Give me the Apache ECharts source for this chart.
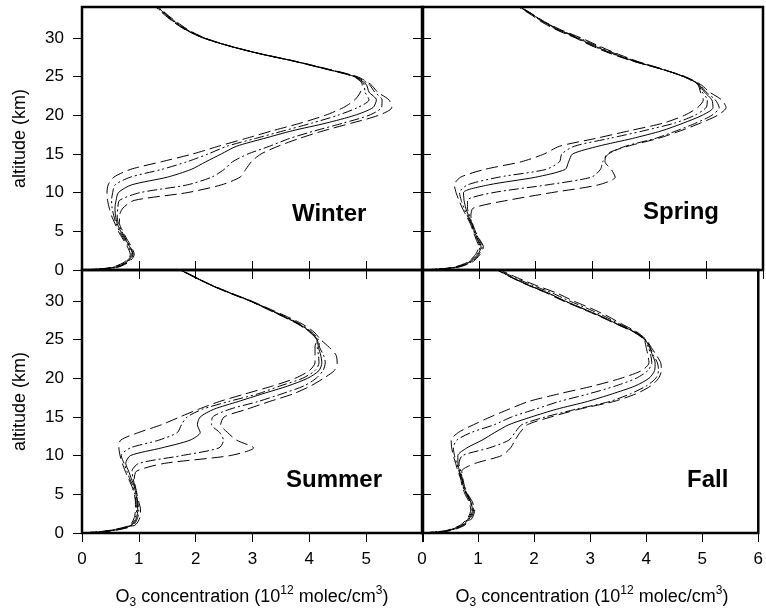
<!DOCTYPE html>
<html><head><meta charset="utf-8">
<script src="https://cdn.jsdelivr.net/npm/echarts@6/dist/echarts.min.js"></script>
<style>html,body{margin:0;padding:0;background:#fff}#c{width:766px;height:614px}</style>
</head><body><div id="c"></div><script>
const altitudes = [0, 0.3, 1, 2, 3, 4, 5, 6, 7, 8, 9, 10, 11, 12, 13, 14, 15, 16, 17, 18, 19, 20, 21, 22, 23, 24, 25, 26, 27, 28, 29, 30, 31, 32, 33, 34];
const xTicks = [0, 1, 2, 3, 4, 5, 6];
const xTicksLeft = [0, 1, 2, 3, 4, 5];
const yTicks = [0, 5, 10, 15, 20, 25, 30];
const seasons = ['Winter', 'Spring', 'Summer', 'Fall'];

const winterP10 = [0, 0.5, 0.74, 0.85, 0.8, 0.72, 0.64, 0.58, 0.52, 0.48, 0.45, 0.44, 0.46, 0.56, 0.85, 1.4, 1.95, 2.4, 2.88, 3.35, 3.85, 4.28, 4.6, 4.8, 4.9, 4.93, 4.78, 4.27, 3.72, 3.1, 2.58, 2.16, 1.88, 1.68, 1.5, 1.36];
const winterP25 = [0, 0.52, 0.76, 0.87, 0.82, 0.74, 0.66, 0.6, 0.56, 0.53, 0.52, 0.54, 0.58, 0.85, 1.4, 1.85, 2.22, 2.55, 3.05, 3.55, 4.05, 4.5, 4.85, 5.05, 4.98, 4.96, 4.79, 4.28, 3.73, 3.1, 2.57, 2.15, 1.86, 1.66, 1.49, 1.34];
const winterP50 = [0, 0.55, 0.78, 0.89, 0.84, 0.76, 0.68, 0.62, 0.59, 0.58, 0.6, 0.64, 0.87, 1.5, 1.92, 2.18, 2.45, 2.72, 3.2, 3.7, 4.3, 4.8, 5.12, 5.18, 5.05, 5.0, 4.8, 4.29, 3.73, 3.1, 2.57, 2.14, 1.85, 1.65, 1.48, 1.33];
const winterP75 = [0, 0.57, 0.8, 0.9, 0.85, 0.77, 0.7, 0.64, 0.62, 0.63, 0.66, 1.02, 1.85, 2.28, 2.5, 2.65, 2.92, 3.3, 3.65, 4.1, 4.6, 5.05, 5.27, 5.28, 5.15, 5.05, 4.82, 4.3, 3.74, 3.11, 2.57, 2.13, 1.84, 1.63, 1.46, 1.31];
const winterP90 = [0, 0.6, 0.82, 0.92, 0.87, 0.79, 0.72, 0.66, 0.66, 0.72, 0.92, 1.85, 2.45, 2.78, 2.88, 2.98, 3.15, 3.45, 3.82, 4.25, 4.75, 5.22, 5.45, 5.4, 5.2, 5.08, 4.84, 4.32, 3.75, 3.12, 2.58, 2.13, 1.83, 1.62, 1.45, 1.3];

const springP10 = [0, 0.52, 0.8, 0.94, 1.0, 0.95, 0.9, 0.85, 0.78, 0.71, 0.65, 0.6, 0.57, 0.68, 1.1, 1.75, 2.15, 2.42, 3.05, 3.65, 4.25, 4.62, 4.85, 4.95, 4.9, 4.85, 4.6, 4.22, 3.78, 3.42, 3.1, 2.8, 2.46, 2.18, 1.96, 1.74];
const springP25 = [0, 0.54, 0.82, 0.96, 1.02, 0.97, 0.91, 0.86, 0.8, 0.74, 0.69, 0.66, 0.8, 1.35, 2.18, 2.42, 2.46, 2.68, 3.29, 3.9, 4.45, 4.8, 5.0, 5.02, 4.93, 4.86, 4.6, 4.21, 3.76, 3.39, 3.06, 2.77, 2.44, 2.17, 1.95, 1.73];
const springP50 = [0, 0.56, 0.84, 0.98, 1.04, 0.98, 0.92, 0.87, 0.82, 0.77, 0.74, 0.73, 1.17, 2.0, 2.52, 2.58, 2.65, 3.1, 3.7, 4.22, 4.6, 4.93, 5.12, 5.1, 4.97, 4.87, 4.61, 4.2, 3.73, 3.35, 3.02, 2.74, 2.42, 2.16, 1.95, 1.73];
const springP75 = [0, 0.58, 0.86, 1.0, 1.06, 1.0, 0.93, 0.88, 0.84, 0.8, 0.8, 1.25, 2.2, 2.98, 3.14, 3.18, 3.28, 3.58, 4.1, 4.48, 4.82, 5.1, 5.23, 5.16, 5.0, 4.88, 4.62, 4.2, 3.72, 3.33, 3.0, 2.72, 2.4, 2.14, 1.93, 1.72];
const springP90 = [0, 0.6, 0.88, 1.02, 1.08, 1.01, 0.94, 0.89, 0.86, 0.9, 1.5, 2.28, 3.1, 3.4, 3.33, 3.22, 3.25, 3.62, 4.15, 4.55, 4.9, 5.2, 5.35, 5.27, 5.06, 4.9, 4.63, 4.2, 3.71, 3.31, 2.98, 2.7, 2.38, 2.12, 1.92, 1.7];

const summerP10 = [0, 0.45, 0.84, 0.92, 0.94, 0.94, 0.92, 0.88, 0.82, 0.76, 0.71, 0.67, 0.65, 0.68, 1.0, 1.4, 1.72, 2.05, 2.42, 2.88, 3.35, 3.75, 4.0, 4.1, 4.1, 4.1, 4.12, 4.0, 3.8, 3.53, 3.24, 2.95, 2.6, 2.28, 2.0, 1.73];
const summerP25 = [0, 0.47, 0.86, 0.94, 0.96, 0.95, 0.93, 0.9, 0.84, 0.79, 0.74, 0.69, 0.85, 1.35, 1.68, 1.75, 1.85, 2.12, 2.58, 3.1, 3.48, 3.88, 4.1, 4.17, 4.16, 4.14, 4.13, 4.01, 3.81, 3.54, 3.25, 2.96, 2.61, 2.28, 2.0, 1.73];
const summerP50 = [0, 0.5, 0.88, 0.96, 0.98, 0.97, 0.95, 0.92, 0.87, 0.82, 0.77, 0.85, 1.4, 1.9, 2.08, 2.03, 2.08, 2.32, 2.75, 3.18, 3.62, 3.97, 4.17, 4.22, 4.2, 4.16, 4.14, 4.02, 3.82, 3.55, 3.26, 2.96, 2.61, 2.28, 2.0, 1.73];
const summerP75 = [0, 0.52, 0.9, 0.98, 1.0, 0.98, 0.96, 0.93, 0.9, 0.88, 1.0, 1.75, 2.41, 2.49, 2.42, 2.28, 2.3, 2.6, 3.1, 3.52, 3.9, 4.12, 4.24, 4.28, 4.25, 4.18, 4.16, 4.04, 3.84, 3.57, 3.27, 2.97, 2.62, 2.29, 2.01, 1.74];
const summerP90 = [0, 0.55, 0.93, 1.02, 1.03, 1.0, 0.97, 0.94, 0.92, 0.96, 1.45, 2.6, 3.02, 2.72, 2.56, 2.44, 2.5, 2.9, 3.3, 3.72, 4.02, 4.25, 4.44, 4.49, 4.47, 4.35, 4.2, 4.08, 3.88, 3.6, 3.29, 2.98, 2.63, 2.3, 2.02, 1.75];

const fallP10 = [0, 0.42, 0.68, 0.82, 0.87, 0.84, 0.77, 0.72, 0.69, 0.64, 0.6, 0.56, 0.53, 0.52, 0.65, 0.92, 1.22, 1.55, 1.9, 2.45, 3.05, 3.55, 3.92, 4.05, 4.03, 4.0, 3.96, 3.77, 3.47, 3.17, 2.85, 2.52, 2.23, 1.9, 1.6, 1.34];
const fallP25 = [0, 0.44, 0.7, 0.84, 0.89, 0.86, 0.79, 0.73, 0.7, 0.66, 0.62, 0.58, 0.56, 0.62, 0.88, 1.29, 1.6, 2.02, 2.45, 2.98, 3.45, 3.82, 4.03, 4.1, 4.08, 4.04, 3.97, 3.78, 3.48, 3.19, 2.87, 2.54, 2.25, 1.91, 1.61, 1.35];
const fallP50 = [0, 0.46, 0.72, 0.86, 0.9, 0.87, 0.8, 0.74, 0.71, 0.67, 0.64, 0.64, 0.8, 1.07, 1.3, 1.55, 1.95, 2.4, 2.95, 3.4, 3.8, 4.05, 4.15, 4.16, 4.11, 4.06, 3.98, 3.79, 3.49, 3.2, 2.88, 2.55, 2.26, 1.92, 1.62, 1.35];
const fallP75 = [0, 0.48, 0.74, 0.88, 0.92, 0.88, 0.81, 0.75, 0.72, 0.69, 0.66, 0.72, 1.2, 1.55, 1.66, 1.78, 2.2, 2.75, 3.35, 3.72, 4.0, 4.17, 4.22, 4.2, 4.13, 4.07, 3.99, 3.81, 3.53, 3.26, 2.96, 2.63, 2.33, 1.98, 1.66, 1.37];
const fallP90 = [0, 0.5, 0.76, 0.9, 0.94, 0.9, 0.82, 0.76, 0.73, 0.71, 0.95, 1.42, 1.58, 1.66, 1.75, 1.88, 2.3, 2.8, 3.42, 3.82, 4.08, 4.22, 4.27, 4.26, 4.18, 4.09, 4.0, 3.83, 3.57, 3.32, 3.03, 2.7, 2.41, 2.04, 1.7, 1.4];

const panelProfiles = [
  [winterP10, winterP25, winterP50, winterP75, winterP90],
  [springP10, springP25, springP50, springP75, springP90],
  [summerP10, summerP25, summerP50, summerP75, summerP90],
  [fallP10, fallP25, fallP50, fallP75, fallP90]
];

const dashes = [[12, 5], [10, 3, 2, 3, 2, 3], 'solid', [10, 3, 2, 3], [12, 5]];
const gridPos = [
  {left: 82, top: 7}, {left: 422, top: 7},
  {left: 82, top: 270}, {left: 422, top: 270}
];
const seasonPos = [[292, 214], [643, 212], [286, 480], [687, 480]];

const chart = echarts.init(document.getElementById('c'), null, {renderer: 'canvas'});
const grids = [], xAxes = [], yAxes = [], series = [];
const tickStyle = {color: '#000', width: 1};

gridPos.forEach((g, i) => {
  const isLeft = i % 2 === 0, isBottom = i >= 2;
  grids.push({left: g.left, top: g.top, width: 341, height: 263, show: true,
    borderColor: '#000', borderWidth: 2.5, backgroundColor: 'transparent'});
  // bottom x axis
  xAxes.push({type: 'value', gridIndex: i, position: 'bottom', min: 0, max: 6, interval: 1,
    axisLine: {show: false}, splitLine: {show: false},
    axisTick: {show: true, inside: !isBottom, length: 9, lineStyle: tickStyle},
    axisLabel: {show: isBottom, margin: 18, fontSize: 17, color: '#000', fontFamily: 'Arial, Liberation Sans',
      customValues: isLeft ? xTicksLeft : xTicks}
  });
  // top x axis (ticks only)
  xAxes.push({type: 'value', gridIndex: i, position: 'top', min: 0, max: 6, interval: 1,
    axisLine: {show: false}, splitLine: {show: false},
    axisTick: {show: true, inside: true, length: 9, lineStyle: tickStyle},
    axisLabel: {show: false}
  });
  yAxes.push({type: 'value', gridIndex: i, position: 'left', min: 0, max: 34, interval: 5,
    axisLine: {show: false}, splitLine: {show: false},
    axisTick: {show: true, inside: !isLeft, length: 9, lineStyle: tickStyle, customValues: yTicks},
    axisLabel: {show: isLeft, margin: 18, fontSize: 17, color: '#000', fontFamily: 'Arial, Liberation Sans',
      customValues: yTicks}
  });
  yAxes.push({type: 'value', gridIndex: i, position: 'right', min: 0, max: 34, interval: 5,
    axisLine: {show: false}, splitLine: {show: false},
    axisTick: {show: true, inside: true, length: 9, lineStyle: tickStyle, customValues: yTicks},
    axisLabel: {show: false}
  });
  panelProfiles[i].forEach((prof, k) => {
    series.push({type: 'line', xAxisIndex: 2 * i, yAxisIndex: 2 * i,
      data: altitudes.map((alt, j) => [prof[j], alt]),
      showSymbol: false, smooth: 0.25, clip: true,
      lineStyle: {color: '#000', width: 1, type: dashes[k]},
      silent: true
    });
  });
});

const graphics = [];
seasons.forEach((s, i) => {
  graphics.push({type: 'text', x: seasonPos[i][0], y: seasonPos[i][1], z: 100,
    style: {text: s, font: 'bold 24px Arial, Liberation Sans', fill: '#000', align: 'left', verticalAlign: 'middle'}});
});
[138.5, 401.5].forEach(cy => {
  graphics.push({type: 'text', x: 20, y: cy, rotation: Math.PI / 2, z: 100,
    style: {text: 'altitude (km)', font: '18px Arial, Liberation Sans', fill: '#000', align: 'center', verticalAlign: 'middle'}});
});
const xTitleRich = {
  a: {fontSize: 18, fontFamily: 'Arial, Liberation Sans', color: '#000', lineHeight: 24},
  sub: {fontSize: 12, fontFamily: 'Arial, Liberation Sans', color: '#000', lineHeight: 10, verticalAlign: 'bottom'},
  sup: {fontSize: 12, fontFamily: 'Arial, Liberation Sans', color: '#000', lineHeight: 10, verticalAlign: 'top'}
};
[252, 592].forEach(cx => {
  graphics.push({type: 'text', x: cx, y: 597, z: 100,
    style: {text: '{a|O}{sub|3}{a| concentration (10}{sup|12}{a| molec/cm}{sup|3}{a|)}',
      rich: xTitleRich, align: 'center', verticalAlign: 'middle', fill: '#000'}});
});

chart.setOption({
  animation: false,
  backgroundColor: '#fff',
  grid: grids, xAxis: xAxes, yAxis: yAxes, series: series,
  graphic: graphics
});
</script></body></html>
